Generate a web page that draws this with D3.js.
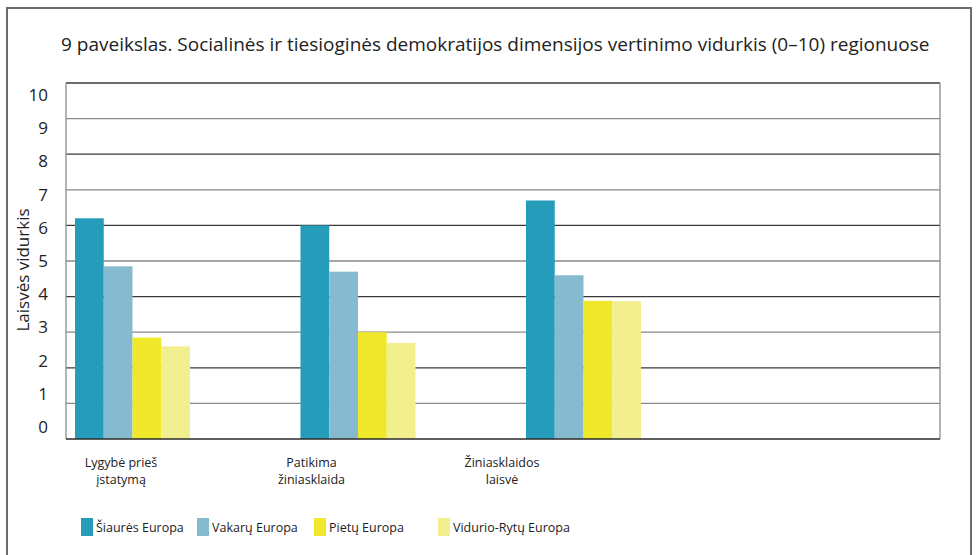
<!DOCTYPE html>
<html>
<head>
<meta charset="utf-8">
<script src="https://cdn.jsdelivr.net/npm/d3@7"></script>
<style>
  body { margin: 0; background: #fff; }
  svg { font-family: "Open Sans", "Noto Sans", sans-serif; }
</style>
</head>
<body>
<svg id="chart" width="977" height="555"></svg>
<script>
// data
var categories = [["Lygybė prieš", "įstatymą"], ["Patikima", "žiniasklaida"], ["Žiniasklaidos", "laisvė"]];
var seriesNames = ["Šiaurės Europa", "Vakarų Europa", "Pietų Europa", "Vidurio-Rytų Europa"];
var siaures = [6.2, 6.0, 6.7];
var vakaru = [4.85, 4.7, 4.6];
var pietu = [2.85, 3.0, 3.88];
var vidurio = [2.6, 2.7, 3.87];
var yTicks = [0, 1, 2, 3, 4, 5, 6, 7, 8, 9, 10];
var colors = ["#259cba", "#86bbcf", "#f0e82a", "#f2ef8e"];

var seriesValues = [siaures, vakaru, pietu, vidurio];
var catIds = categories.map(function (c, i) { return "c" + i; });

var svg = d3.select("#chart");
var plotLeft = 66, plotRight = 940, plotTop = 83, plotBottom = 439;

// outer frame
svg.append("path")
    .attr("d", "M7,560 V8 H971 V560")
    .attr("fill", "none")
    .attr("stroke", "#6b6b6b")
    .attr("stroke-width", 2);

svg.append("text")
    .attr("x", 61)
    .attr("y", 51)
    .style("font-size", "19px")
    .style("fill", "#222")
    .text("9 paveikslas. Socialinės ir tiesioginės demokratijos dimensijos vertinimo vidurkis (0–10) regionuose");

var y = d3.scaleLinear().domain([0, 10]).range([plotBottom, plotTop]);
// tick labels sit slightly off the gridlines in the original
var yLabel = d3.scaleLinear().domain([0, 10]).range([427, 95]);

var groupX = d3.scalePoint().domain(catIds).range([75, 526]);
var sub = d3.scaleBand().domain(d3.range(seriesNames.length)).range([0, 115]);
var labelX = d3.scalePoint().domain(catIds).range([121, 502]);

// gridlines
svg.append("g")
    .selectAll("line")
    .data(yTicks.slice(1))
    .enter()
    .append("line")
    .attr("x1", plotLeft)
    .attr("x2", plotRight)
    .attr("y1", function (d) { return y(d); })
    .attr("y2", function (d) { return y(d); })
    .attr("stroke", function (d) { return d % 2 == 0 ? "#3a3a3a" : "#8a8a8a"; })
    .attr("stroke-width", 1.3);

svg.append("line")
    .attr("x1", plotRight).attr("x2", plotRight)
    .attr("y1", plotTop).attr("y2", plotBottom)
    .attr("stroke", "#8a8a8a").attr("stroke-width", 1.3);

svg.append("g")
    .selectAll("text")
    .data(yTicks)
    .enter()
    .append("text")
    .attr("x", 48)
    .attr("y", function (d) { return yLabel(d); })
    .attr("dy", "0.35em")
    .attr("text-anchor", "end")
    .style("font-size", "17px")
    .style("fill", "#222")
    .text(function (d) { return d; });

svg.append("text")
    .attr("transform", "translate(29,270) rotate(-90)")
    .attr("text-anchor", "middle")
    .style("font-size", "17px")
    .style("fill", "#222")
    .text("Laisvės vidurkis");

// bars
seriesValues.forEach(function (vals, s) {
    svg.append("g")
        .selectAll("rect")
        .data(vals)
        .enter()
        .append("rect")
        .attr("x", function (d, i) { return groupX(catIds[i]) + sub(s); })
        .attr("y", function (d) { return y(d); })
        .attr("width", sub.bandwidth())
        .attr("height", function (d) { return plotBottom - y(d); })
        .attr("fill", colors[s]);
});

// left and bottom axis lines
svg.append("line")
    .attr("x1", plotLeft).attr("x2", plotLeft)
    .attr("y1", plotTop).attr("y2", plotBottom)
    .attr("stroke", "#8a8a8a").attr("stroke-width", 1.3);
svg.append("line")
    .attr("x1", plotLeft).attr("x2", plotRight)
    .attr("y1", plotBottom).attr("y2", plotBottom)
    .attr("stroke", "#2a2a2a").attr("stroke-width", 1.5);

// category labels
categories.forEach(function (lines, i) {
    var t = svg.append("text")
        .attr("x", labelX(catIds[i]))
        .attr("y", 467)
        .attr("text-anchor", "middle")
        .style("font-size", "12.5px")
        .style("fill", "#222");
    lines.forEach(function (l, k) {
        t.append("tspan")
            .attr("x", labelX(catIds[i]))
            .attr("dy", k == 0 ? 0 : 17)
            .text(l);
    });
});

// legend
var legendX = [81, 197, 314, 438];
var legend = svg.append("g")
    .selectAll("g")
    .data(seriesNames)
    .enter()
    .append("g")
    .attr("transform", function (d, i) { return "translate(" + legendX[i] + ",518)"; });
legend.append("rect")
    .attr("width", 12)
    .attr("height", 18)
    .attr("fill", function (d, i) { return colors[i]; });
legend.append("text")
    .attr("x", 15)
    .attr("y", 14)
    .style("font-size", "12.5px")
    .style("fill", "#222")
    .text(function (d) { return d; });
</script>
</body>
</html>
